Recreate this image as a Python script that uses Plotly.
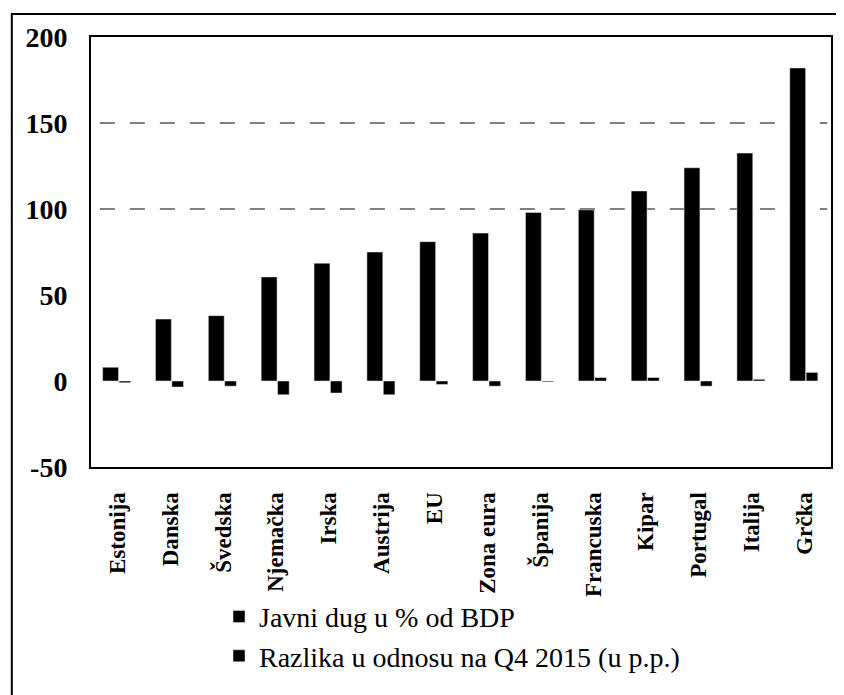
import plotly.graph_objects as go

countries = ["Estonija", "Danska", "Švedska", "Njemačka", "Irska", "Austrija", "EU",
             "Zona eura", "Španija", "Francuska", "Kipar", "Portugal", "Italija", "Grčka"]
javni_dug = [8, 36, 38, 60.5, 68.5, 75, 81, 86, 98, 99.5, 110.5, 124, 132.5, 182]
razlika = [-1, -3.5, -3, -8, -7, -8, -2, -3, -0.5, 2, 2, -3, 1, 5]
y_ticks = [-50, 0, 50, 100, 150, 200]
y_tick_labels = ["-50", "0", "50", "100", "150", "200"]
grid_levels = [100, 150]

fig = go.Figure()
fig.add_trace(go.Bar(x=countries, y=javni_dug, name="Javni dug u % od BDP",
                     marker_color="black", width=0.30, offset=-0.28))
fig.add_trace(go.Bar(x=countries, y=razlika, name="Razlika u odnosu na Q4 2015 (u p.p.)",
                     marker_color="black", width=0.22, offset=0.03))

# dashed gridlines (only the visible ones)
for g in grid_levels:
    fig.add_shape(type="line", xref="paper", yref="y", x0=0.012, x1=0.995, y0=g, y1=g,
                  line=dict(color="black", width=1, dash="longdash"), layer="below")

# outer frame of the figure
fig.add_shape(type="rect", xref="paper", yref="paper",
              x0=-0.107, x1=1.05, y0=-0.62, y1=1.0535,
              line=dict(color="black", width=2))

# page body adds an 8px margin, so the figure is 8px smaller than the window
fig.update_layout(
    width=836, height=687,
    margin=dict(l=83, r=13, t=29, b=228, autoexpand=False),
    plot_bgcolor="white", paper_bgcolor="white",
    barmode="overlay",
    showlegend=True,
    legend=dict(x=0.173, y=-0.29, xanchor="left", yanchor="top",
                bgcolor="rgba(0,0,0,0)",
                font=dict(family="Liberation Serif", size=28, color="black"),
                tracegroupgap=0, itemwidth=30),
    font=dict(family="Liberation Serif", color="black"),
)
fig.update_xaxes(tickangle=-90, showline=True, linecolor="black", linewidth=2, mirror=True,
                 ticklabelstandoff=14,
                 tickfont=dict(family="Liberation Serif", size=23, color="black", weight="bold"),
                 ticks="")
fig.update_yaxes(range=[-50, 200], tickvals=y_ticks, ticktext=y_tick_labels,
                 showgrid=False, zeroline=False,
                 showline=True, linecolor="black", linewidth=2, mirror=True,
                 ticklabelstandoff=16,
                 tickfont=dict(family="Liberation Serif", size=28, color="black", weight="bold"))

fig.write_html("out.html")
